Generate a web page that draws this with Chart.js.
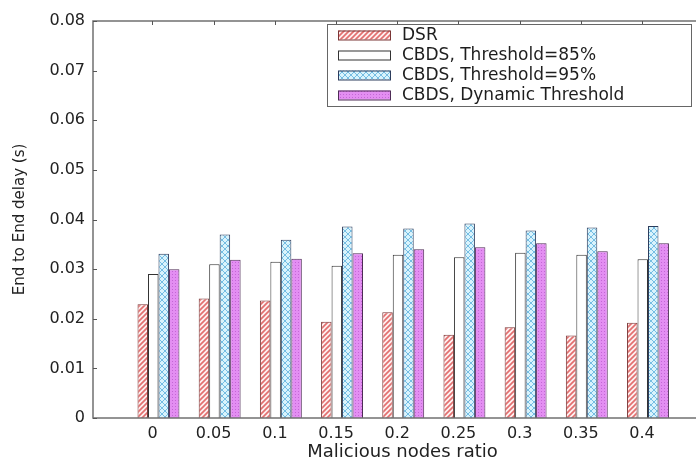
<!DOCTYPE html>
<html>
<head>
<meta charset="utf-8">
<script src="https://cdn.jsdelivr.net/npm/chart.js@4/dist/chart.umd.min.js"></script>
<style>
  html, body { margin: 0; padding: 0; background: #fff; overflow: hidden; }
  #wrap { width: 696px; height: 460px; overflow: hidden; position: relative; }
  #delayChart { display: block; }
</style>
</head>
<body>
<div id="wrap"><canvas id="delayChart" width="712" height="460"></canvas></div>
<script>
// End to End delay x Malicious nodes ratio
const ratios = [0, 0.05, 0.1, 0.15, 0.2, 0.25, 0.3, 0.35, 0.4];
const yTicks = [0, 0.01, 0.02, 0.03, 0.04, 0.05, 0.06, 0.07, 0.08];
const seriesNames = ['DSR', 'CBDS, Threshold=85%', 'CBDS, Threshold=95%', 'CBDS, Dynamic Threshold'];
const dsr     = [0.0229, 0.0241, 0.0237, 0.0194, 0.0213, 0.0168, 0.0183, 0.0166, 0.0192];
const cbds85  = [0.0290, 0.0310, 0.0315, 0.0307, 0.0329, 0.0324, 0.0333, 0.0329, 0.0320];
const cbds95  = [0.0331, 0.0370, 0.0359, 0.0386, 0.0382, 0.0392, 0.0378, 0.0384, 0.0387];
const cbdsDyn = [0.0300, 0.0319, 0.0321, 0.0332, 0.0340, 0.0344, 0.0352, 0.0336, 0.0352];

// padrões de preenchimento (hachuras)
function makePattern(size, draw) {
  const c = document.createElement('canvas');
  c.width = size; c.height = size;
  const g = c.getContext('2d');
  draw(g, size);
  return g.createPattern(c, 'repeat');
}
const hatchRed = makePattern(5, (g, s) => {
  g.fillStyle = '#fdf0f0'; g.fillRect(0, 0, s, s);
  g.strokeStyle = '#e27070'; g.lineWidth = 1.7;
  g.beginPath();
  g.moveTo(-1, s + 1); g.lineTo(s + 1, -1);
  g.moveTo(-1, 1); g.lineTo(1, -1);
  g.moveTo(s - 1, s + 1); g.lineTo(s + 1, s - 1);
  g.stroke();
});
const crossBlue = makePattern(6, (g, s) => {
  g.fillStyle = '#d9f3fc'; g.fillRect(0, 0, s, s);
  g.strokeStyle = '#74bde3'; g.lineWidth = 1;
  g.beginPath();
  g.moveTo(0, 0); g.lineTo(s, s);
  g.moveTo(0, s); g.lineTo(s, 0);
  g.stroke();
});
const dotsMagenta = makePattern(3, (g, s) => {
  g.fillStyle = '#e38ef2'; g.fillRect(0, 0, s, s);
  g.fillStyle = '#c466d6'; g.fillRect(1, 1, 1, 1);
});

const fills   = [hatchRed, '#ffffff', crossBlue, dotsMagenta];
const borders = ['#7a3636', '#333333', '#2c3c5c', '#4e2c56'];
const values  = [dsr, cbds85, cbds95, cbdsDyn];

const fontFamily = '"DejaVu Sans", Arial, sans-serif';

// moldura, ticks internos e legenda
const frameAndLegend = {
  id: 'frameAndLegend',
  afterDatasetsDraw(chart) {
    const { ctx, chartArea: a } = chart;
    ctx.save();
    ctx.strokeStyle = '#707070';
    ctx.lineWidth = 1.5;
    ctx.strokeRect(a.left, a.top, a.right - a.left, a.bottom - a.top);

    ctx.lineWidth = 1;
    ctx.strokeStyle = '#555';
    const ys = chart.scales.y;
    ctx.beginPath();
    ys.ticks.forEach((t, i) => {
      const py = Math.round(ys.getPixelForTick(i)) + 0.5;
      ctx.moveTo(a.left, py); ctx.lineTo(a.left + 4, py);
    });
    const xs = chart.scales.x;
    xs.ticks.forEach((t, i) => {
      const px = Math.round(xs.getPixelForTick(i) + xs.options.ticks.labelOffset) + 0.5;
      ctx.moveTo(px, a.top); ctx.lineTo(px, a.top + 4);
    });
    ctx.stroke();

    // legenda
    const lx = a.left + 234, ly = a.top + 3, lw = 364, lh = 82;
    ctx.fillStyle = '#fff';
    ctx.fillRect(lx, ly, lw, lh);
    ctx.strokeStyle = '#666';
    ctx.strokeRect(lx + 0.5, ly + 0.5, lw, lh);
    ctx.font = '17px ' + fontFamily;
    ctx.textBaseline = 'middle';
    chart.data.datasets.forEach((ds, i) => {
      const rowY = ly + 11 + i * 20;
      ctx.fillStyle = ds.backgroundColor;
      ctx.fillRect(lx + 11, rowY - 4.5, 52, 9);
      ctx.strokeStyle = ds.borderColor;
      ctx.strokeRect(lx + 11.5, rowY - 4, 52, 9);
      ctx.fillStyle = '#1e1e1e';
      ctx.fillText(ds.label, lx + 75, rowY + 1);
    });
    ctx.restore();
  }
};

const ctx = document.getElementById('delayChart').getContext('2d');
window.delayChart = new Chart(ctx, {
  type: 'bar',
  data: {
    datasets: seriesNames.map((name, k) => ({
      label: name,
      data: ratios.map((r, i) => ({ x: r, y: values[k][i] })),
      backgroundColor: fills[k],
      borderColor: borders[k],
      borderWidth: 1,
      categoryPercentage: 0.685,
      barPercentage: 1
    }))
  },
  options: {
    responsive: false,
    animation: false,
    devicePixelRatio: 1,
    layout: { padding: { top: 21, left: 0, right: 0, bottom: 0 } },
    plugins: { legend: { display: false }, tooltip: { enabled: false } },
    scales: {
      x: {
        type: 'linear',
        offset: false,
        min: -0.0535,
        max: 0.4523,
        afterBuildTicks: s => { s.ticks = ratios.map(v => ({ value: v })); },
        afterFit: s => { s.height = 42; },
        grid: { display: false, drawTicks: false, offset: false },
        border: { display: false },
        ticks: {
          padding: 6, labelOffset: -6, autoSkip: false, maxRotation: 0,
          color: '#222', font: { family: fontFamily, size: 16 },
          callback: v => String(v)
        },
        title: {
          display: true, text: 'Malicious nodes ratio', color: '#222',
          font: { family: fontFamily, size: 18 }, padding: { top: 0, bottom: -3 }
        }
      },
      y: {
        min: 0,
        max: 0.08,
        afterBuildTicks: s => { s.ticks = yTicks.map(v => ({ value: v })); },
        afterFit: s => { s.width = 93; },
        grid: { display: false, drawTicks: false },
        border: { display: false },
        ticks: {
          padding: 8, color: '#222', font: { family: fontFamily, size: 16 },
          callback: v => String(v)
        },
        title: {
          display: true, text: 'End to End delay (s)', color: '#222',
          font: { family: fontFamily, size: 15 }, padding: { top: 11, bottom: 0 }
        }
      }
    }
  },
  plugins: [frameAndLegend]
});
</script>
</body>
</html>
